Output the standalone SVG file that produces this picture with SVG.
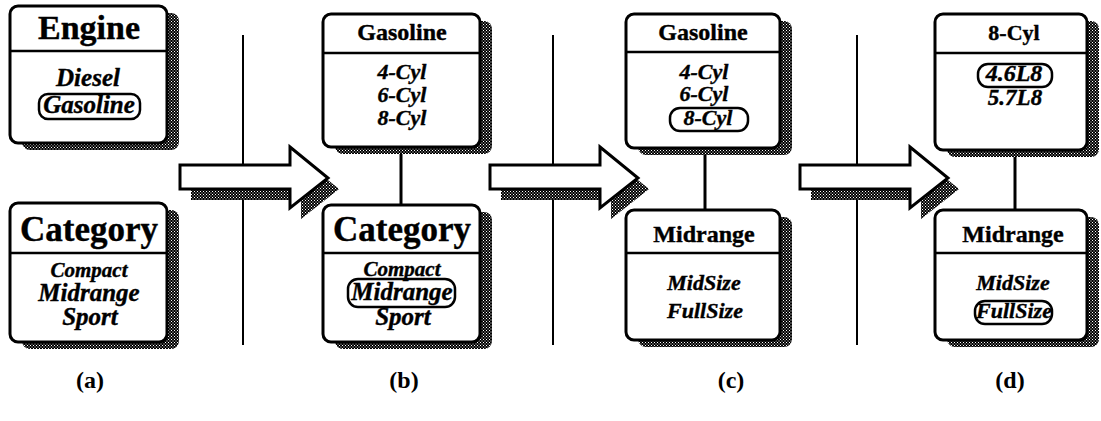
<svg xmlns="http://www.w3.org/2000/svg" width="1101" height="421" viewBox="0 0 1101 421">
<defs>
<pattern id="ht" width="3" height="3" patternUnits="userSpaceOnUse">
<rect width="3" height="3" fill="#000"/>
<rect x="0" y="0" width="1" height="1" fill="#fff"/>
<rect x="1.5" y="1.5" width="1" height="1" fill="#fff"/>
</pattern>
<style>
.box{fill:#fff;stroke:#000;stroke-width:3}
.sh{fill:url(#ht)}
.sep{stroke:#000;stroke-width:2.5}
.hd{font-family:"Liberation Serif",serif;font-weight:bold;text-anchor:middle;fill:#000;stroke:#000;stroke-width:0.4}
.it{font-family:"Liberation Serif",serif;font-weight:bold;font-style:italic;text-anchor:middle;fill:#000;stroke:#000;stroke-width:0.4}
.sel{fill:none;stroke:#000;stroke-width:2.5}
.vl{stroke:#000;stroke-width:2;fill:none}
.ar{fill:#fff;stroke:#000;stroke-width:3;stroke-linejoin:miter}
.lbl{font-family:"Liberation Serif",serif;font-weight:bold;font-size:24px;text-anchor:middle}
</style>
<polygon id="arrowShape" points="0,0 110,0 110,-18 148,13 110,43 110,24 0,24"/>
</defs>
<rect width="1101" height="421" fill="#fff"/>

<g id="dividers">
<line class="vl" x1="243" y1="35" x2="243" y2="345"/>
<line class="vl" x1="553" y1="35" x2="553" y2="345"/>
<line class="vl" x1="857" y1="35" x2="857" y2="345"/>
</g>

<g id="connectors">
<line class="vl" x1="401" y1="147" x2="401" y2="205" style="stroke-width:3"/>
<line class="vl" x1="705" y1="148" x2="705" y2="210" style="stroke-width:3"/>
<line class="vl" x1="1015" y1="150" x2="1015" y2="210" style="stroke-width:3"/>
<g id="arrow1" transform="translate(180,165)">
<use href="#arrowShape" class="sh" transform="translate(11,11)"/>
<use href="#arrowShape" class="ar"/>
</g>
<g id="arrow2" transform="translate(490,165)">
<use href="#arrowShape" class="sh" transform="translate(11,11)"/>
<use href="#arrowShape" class="ar"/>
</g>
<g id="arrow3" transform="translate(800,165)">
<use href="#arrowShape" class="sh" transform="translate(11,11)"/>
<use href="#arrowShape" class="ar"/>
</g>
</g>

<!-- Panel a -->
<g id="a-engine">
<rect class="sh" x="22" y="13" width="157" height="137" rx="8"/>
<rect class="box" x="10" y="6" width="157" height="137" rx="8"/>
<line class="sep" x1="10" y1="51" x2="167" y2="51"/>
<text class="hd" x="89" y="39" font-size="34">Engine</text>
<text class="it" x="88" y="86" font-size="25">Diesel</text>
<rect class="sel" x="39" y="94" width="101" height="25" rx="9"/>
<text class="it" x="89" y="113" font-size="25">Gasoline</text>
</g>
<g id="a-category">
<rect class="sh" x="22" y="210" width="157" height="139" rx="8"/>
<rect class="box" x="10" y="203" width="157" height="139" rx="8"/>
<line class="sep" x1="10" y1="253" x2="167" y2="253"/>
<text class="hd" x="89" y="241" font-size="35">Category</text>
<text class="it" x="89" y="277" font-size="21">Compact</text>
<text class="it" x="89" y="301" font-size="25">Midrange</text>
<text class="it" x="90" y="325" font-size="25">Sport</text>
</g>

<!-- Panel b -->
<g id="b-gasoline">
<rect class="sh" x="335" y="21" width="157" height="133" rx="8"/>
<rect class="box" x="323" y="14" width="157" height="133" rx="8"/>
<line class="sep" x1="323" y1="53" x2="480" y2="53"/>
<text class="hd" x="402" y="40" font-size="24">Gasoline</text>
<text class="it" x="402" y="79" font-size="22">4-Cyl</text>
<text class="it" x="402" y="102" font-size="22">6-Cyl</text>
<text class="it" x="402" y="125" font-size="22">8-Cyl</text>
</g>
<g id="b-category">
<rect class="sh" x="335" y="212" width="157" height="137" rx="8"/>
<rect class="box" x="323" y="205" width="157" height="137" rx="8"/>
<line class="sep" x1="323" y1="253" x2="480" y2="253"/>
<text class="hd" x="402" y="241" font-size="35">Category</text>
<text class="it" x="402" y="276" font-size="21">Compact</text>
<rect class="sel" x="348" y="279" width="107" height="28" rx="10"/>
<text class="it" x="402" y="300" font-size="25">Midrange</text>
<text class="it" x="403" y="325" font-size="25">Sport</text>
</g>

<!-- Panel c -->
<g id="c-gasoline">
<rect class="sh" x="638" y="21" width="154" height="134" rx="8"/>
<rect class="box" x="626" y="14" width="154" height="134" rx="8"/>
<line class="sep" x1="626" y1="52" x2="780" y2="52"/>
<text class="hd" x="703" y="40" font-size="24">Gasoline</text>
<text class="it" x="704" y="79" font-size="22">4-Cyl</text>
<text class="it" x="704" y="101" font-size="22">6-Cyl</text>
<rect class="sel" x="670" y="108" width="78" height="23" rx="10"/>
<text class="it" x="708" y="125" font-size="22">8-Cyl</text>
</g>
<g id="c-midrange">
<rect class="sh" x="638" y="217" width="154" height="130" rx="8"/>
<rect class="box" x="626" y="210" width="154" height="130" rx="8"/>
<line class="sep" x1="626" y1="253" x2="780" y2="253"/>
<text class="hd" x="704" y="242" font-size="24">Midrange</text>
<text class="it" x="704" y="290" font-size="22">MidSize</text>
<text class="it" x="705" y="318" font-size="22">FullSize</text>
</g>

<!-- Panel d -->
<g id="d-8cyl">
<rect class="sh" x="947" y="21" width="152" height="136" rx="8"/>
<rect class="box" x="935" y="14" width="152" height="136" rx="8"/>
<line class="sep" x1="935" y1="53" x2="1087" y2="53"/>
<text class="hd" x="1014" y="40" font-size="22">8-Cyl</text>
<rect class="sel" x="978" y="64" width="74" height="23" rx="10"/>
<text class="it" x="1014" y="81" font-size="24">4.6L8</text>
<text class="it" x="1015" y="105" font-size="23">5.7L8</text>
</g>
<g id="d-midrange">
<rect class="sh" x="947" y="217" width="152" height="130" rx="8"/>
<rect class="box" x="935" y="210" width="152" height="130" rx="8"/>
<line class="sep" x1="935" y1="253" x2="1087" y2="253"/>
<text class="hd" x="1013" y="242" font-size="24">Midrange</text>
<text class="it" x="1013" y="290" font-size="22">MidSize</text>
<rect class="sel" x="975" y="301" width="77" height="23" rx="10"/>
<text class="it" x="1014" y="318" font-size="22">FullSize</text>
</g>

<g id="labels">
<text class="lbl" x="90" y="388">(a)</text>
<text class="lbl" x="404" y="388">(b)</text>
<text class="lbl" x="731" y="388">(c)</text>
<text class="lbl" x="1010" y="388">(d)</text>
</g>
</svg>
